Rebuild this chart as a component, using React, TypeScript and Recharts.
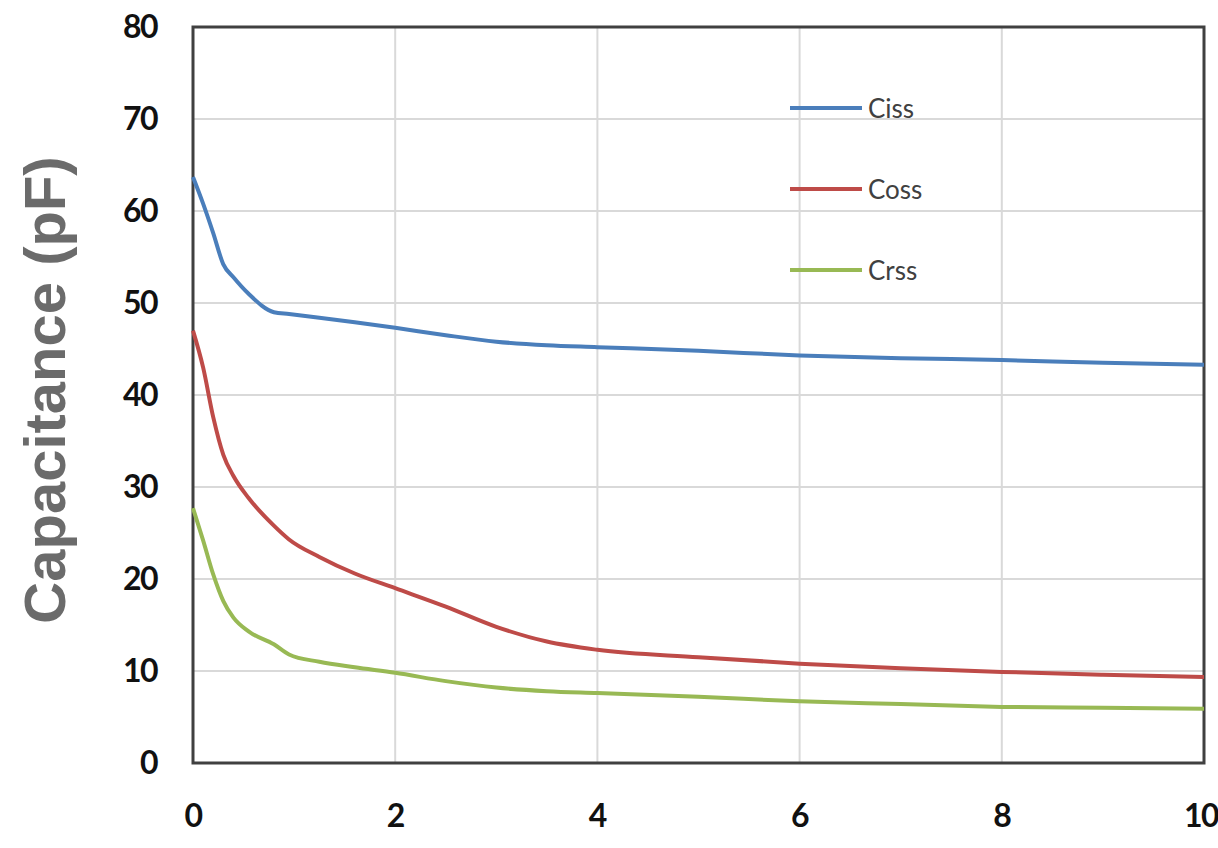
import React from "react";
import {
  LineChart,
  Line,
  XAxis,
  YAxis,
  CartesianGrid,
  ReferenceArea,
} from "recharts";

// Vds sample points (V)
const voltage = [
  0, 0.1, 0.2, 0.3, 0.4, 0.55, 0.8, 0.95, 1.25, 1.6, 2, 2.5, 3, 3.5, 4, 5, 6,
  7, 8, 9, 10,
];

const ciss = [
  63.7, 60.8, 57.6, 54.2, 52.8, 51, 49.0, 48.8, 48.4, 47.9, 47.3, 46.5, 45.8,
  45.4, 45.2, 44.8, 44.3, 44.0, 43.8, 43.5, 43.3,
];

const coss = [
  47, 43, 37.6, 33.5, 31.2, 28.8, 25.8, 24.3, 22.4, 20.6, 19, 17, 14.8, 13.2,
  12.3, 11.5, 10.8, 10.3, 9.9, 9.6, 9.35,
];

const crss = [
  27.7, 24.2, 20.5, 17.6, 15.8, 14.3, 12.9, 11.8, 11.0, 10.4, 9.8, 8.9, 8.2,
  7.8, 7.6, 7.2, 6.7, 6.4, 6.1, 6.0, 5.9,
];

const xTicks = [0, 2, 4, 6, 8, 10];
const yTicks = [0, 10, 20, 30, 40, 50, 60, 70, 80];

const series = [
  { key: "Ciss", color: "#4A7EBB" },
  { key: "Coss", color: "#BE4B48" },
  { key: "Crss", color: "#98B954" },
];

const tickFont = {
  fontSize: 32,
  fontWeight: 700,
  fill: "#111",
  fontFamily: "Lato, sans-serif",
  letterSpacing: -1.5,
};

// x tick: the last label hugs the right edge instead of spilling over it
function XTick(props: any) {
  const { x, y, payload } = props;
  const last = payload.value === xTicks[xTicks.length - 1];
  return (
    <text
      x={last ? x + 14 : x}
      y={y}
      dy="0.71em"
      textAnchor={last ? "end" : "middle"}
      {...tickFont}
    >
      {payload.value}
    </text>
  );
}

// legend sits inside the plot, top-right, like the original Excel chart
function LegendBox() {
  return (
    <div
      style={{
        position: "absolute",
        left: 790,
        top: 67,
        fontFamily: "Lato, sans-serif",
      }}
    >
      {series.map((s) => (
        <div
          key={s.key}
          style={{ display: "flex", alignItems: "center", height: 81 }}
        >
          <div style={{ width: 72, height: 4, background: s.color }} />
          <span style={{ marginLeft: 6, fontSize: 26, color: "#404040" }}>
            {s.key}
          </span>
        </div>
      ))}
    </div>
  );
}

export default function App() {
  const data = voltage.map((v, i) => ({
    v,
    Ciss: ciss[i],
    Coss: coss[i],
    Crss: crss[i],
  }));

  return (
    <div
      style={{
        position: "absolute",
        left: 0,
        top: 0,
        width: 1218,
        height: 848,
        background: "#fff",
        overflow: "hidden",
      }}
    >
      <LineChart
        width={1218}
        height={848}
        data={data}
        margin={{ top: 27, right: 14, bottom: 0, left: 0 }}
      >
        <CartesianGrid stroke="#d9d9d9" strokeWidth={2} />
        <XAxis
          dataKey="v"
          type="number"
          domain={[0, 10]}
          ticks={xTicks}
          axisLine={false}
          tickLine={false}
          tickSize={0}
          tickMargin={41}
          height={85}
          tick={<XTick />}
        />
        <YAxis
          type="number"
          domain={[0, 80]}
          ticks={yTicks}
          axisLine={false}
          tickLine={false}
          tickSize={0}
          tickMargin={36}
          width={193}
          tick={tickFont}
          label={{
            content: () => (
              <text
                transform="translate(44,390) rotate(-90)"
                textAnchor="middle"
                dominantBaseline="central"
                fontSize={58}
                fontWeight={700}
                fill="#6b6b6b"
                fontFamily="'Liberation Sans', Arial, sans-serif"
              >
                Capacitance (pF)
              </text>
            ),
          }}
        />
        <ReferenceArea
          x1={0}
          x2={10}
          y1={0}
          y2={80}
          fill="none"
          stroke="#404040"
          strokeWidth={3}
          strokeOpacity={1}
          fillOpacity={0}
        />
        {series.map((s) => (
          <Line
            key={s.key}
            dataKey={s.key}
            type="monotone"
            stroke={s.color}
            strokeWidth={4}
            dot={false}
            isAnimationActive={false}
          />
        ))}
      </LineChart>
      <LegendBox />
    </div>
  );
}
